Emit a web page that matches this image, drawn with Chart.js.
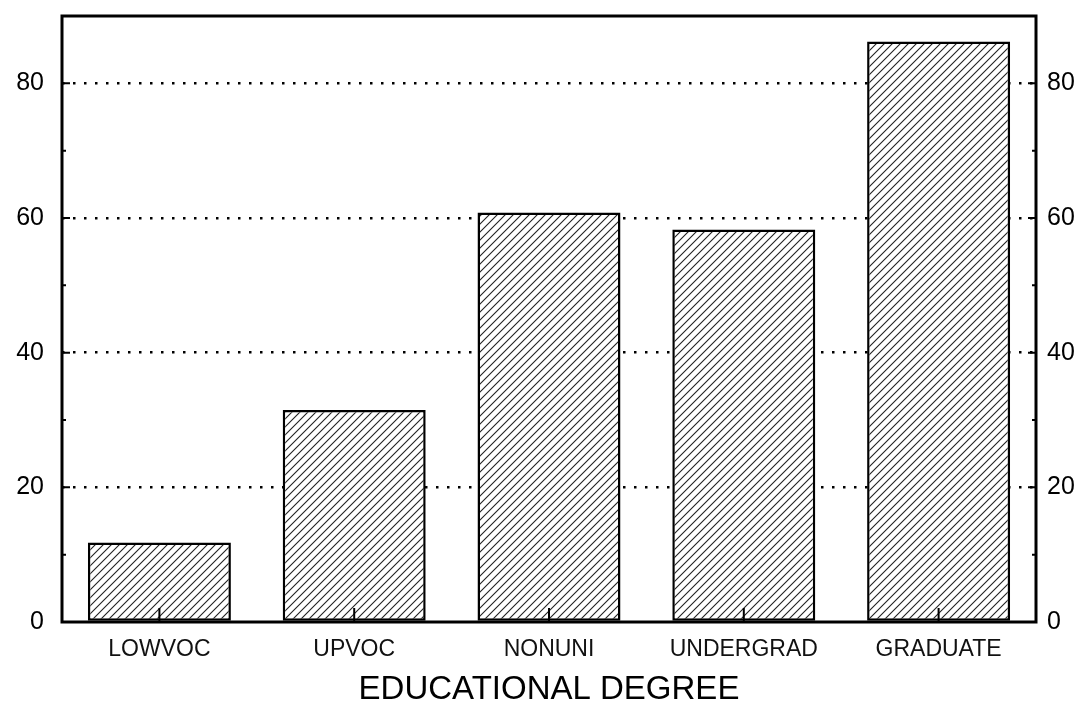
<!DOCTYPE html>
<html>
<head>
<meta charset="utf-8">
<style>
  html, body { margin: 0; padding: 0; background: #fff; }
</style>
<script src="https://cdn.jsdelivr.net/npm/chart.js@4/dist/chart.umd.min.js"></script>
</head>
<body>
<canvas id="chart" width="1080" height="706"></canvas>
<script>
const degrees = ["LOWVOC", "UPVOC", "NONUNI", "UNDERGRAD", "GRADUATE"];
const values = [11.8, 31.5, 60.8, 58.3, 86.2];
const yTicks = [0, 20, 40, 60, 80];
const yMinorTicks = [10, 30, 50, 70];
const yMax = 90;
const xTitle = "EDUCATIONAL DEGREE";

Chart.defaults.font.family = "'Liberation Sans', Arial, sans-serif";
Chart.defaults.color = "#000";

const canvas = document.getElementById("chart");
const ctx = canvas.getContext("2d");

// diagonal hatch, white underneath so the dotted grid is hidden behind bars
function hatch() {
  const c = document.createElement("canvas");
  c.width = 8; c.height = 8;
  const g = c.getContext("2d");
  g.fillStyle = "#fff";
  g.fillRect(0, 0, 8, 8);
  g.strokeStyle = "#222";
  g.lineWidth = 1.1;
  g.beginPath();
  g.moveTo(0, 8); g.lineTo(8, 0);
  g.moveTo(-1, 1); g.lineTo(1, -1);
  g.moveTo(7, 9); g.lineTo(9, 7);
  g.stroke();
  return ctx.createPattern(c, "repeat");
}

// box around the plot + inward tick marks
const frame = {
  id: "frame",
  afterDatasetsDraw(chart) {
    const { ctx, chartArea: a, scales: { x, y } } = chart;
    ctx.save();
    ctx.strokeStyle = "#000";
    ctx.lineWidth = 2;
    ctx.beginPath();
    yTicks.forEach(v => {
      const py = y.getPixelForValue(v);
      ctx.moveTo(a.left, py); ctx.lineTo(a.left + 8, py);
      ctx.moveTo(a.right, py); ctx.lineTo(a.right - 8, py);
    });
    yMinorTicks.forEach(v => {
      const py = y.getPixelForValue(v);
      ctx.moveTo(a.left, py); ctx.lineTo(a.left + 4, py);
      ctx.moveTo(a.right, py); ctx.lineTo(a.right - 4, py);
    });
    degrees.forEach((d, i) => {
      const px = x.getPixelForValue(i);
      ctx.moveTo(px, a.bottom); ctx.lineTo(px, a.bottom - 14);
    });
    ctx.stroke();
    ctx.lineWidth = 3;
    ctx.strokeRect(a.left, a.top, a.right - a.left, a.bottom - a.top);
    ctx.restore();
  }
};

const setTicks = scale => { scale.ticks = yTicks.map(v => ({ value: v })); };

new Chart(canvas, {
  type: "bar",
  data: {
    labels: degrees,
    datasets: [{
      data: values,
      backgroundColor: hatch(),
      borderColor: "#000",
      borderWidth: 2.5,
      borderSkipped: false,
      categoryPercentage: 1,
      barPercentage: 0.734
    }]
  },
  options: {
    responsive: false,
    animation: false,
    layout: { padding: { top: 16 } },
    plugins: { legend: { display: false }, tooltip: { enabled: false } },
    scales: {
      x: {
        grid: { display: false, drawTicks: false },
        border: { display: false },
        ticks: { font: { size: 23 }, padding: 14, color: "#111" },
        title: { display: true, text: xTitle, font: { size: 33, lineHeight: 1 }, padding: { top: 8, bottom: 0 } },
        afterFit: s => { s.height = 84; s.paddingLeft = 0; s.paddingRight = 0; }
      },
      y: {
        position: "left",
        min: 0,
        max: yMax,
        afterBuildTicks: setTicks,
        grid: {
          color: c => c.tick && c.tick.value === 0 ? "rgba(0,0,0,0)" : "#000",
          lineWidth: 2.5,
          drawTicks: false
        },
        border: { display: false, dash: [2.5, 8.5] },
        ticks: { font: { size: 25 }, padding: 18 },
        afterFit: s => { s.width = 62; s.paddingTop = 0; s.paddingBottom = 0; }
      },
      y2: {
        position: "right",
        min: 0,
        max: yMax,
        afterBuildTicks: setTicks,
        grid: { display: false, drawTicks: false },
        border: { display: false },
        ticks: { font: { size: 25 }, padding: 11 },
        afterFit: s => { s.width = 44; s.paddingTop = 0; s.paddingBottom = 0; }
      }
    }
  },
  plugins: [frame]
});
</script>
</body>
</html>
